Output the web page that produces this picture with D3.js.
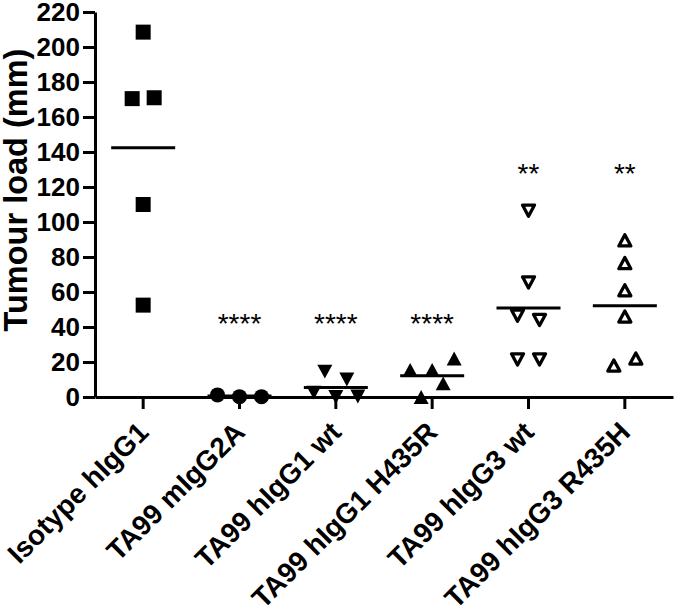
<!DOCTYPE html>
<html>
<head>
<meta charset="utf-8">
<script src="https://cdn.jsdelivr.net/npm/d3@7"></script>
<style>
  body { margin: 0; background: #fff; }
  svg { display: block; font-family: Arial, "Liberation Sans", sans-serif; }
</style>
</head>
<body>
<div id="chart"></div>
<script>
var width = 675,
	height = 616,
	margin = {top: 12, right: 2, bottom: 219, left: 95};

// groups and tumour load values (mm)
var groups = ["Isotype hIgG1", "TA99 mIgG2A", "TA99 hIgG1 wt", "TA99 hIgG1 H435R", "TA99 hIgG3 wt", "TA99 hIgG3 R435H"];
var isotypeIgG1 = [208.5, 170.5, 171, 110, 52.5];
var mIgG2A      = [1.2, 0.2, 0.2];
var hIgG1wt     = [14.5, 10, 2.5, 0, 0.3];
var hIgG1H435R  = [15.5, 15.5, 22, 0, 7.8];
var hIgG3wt     = [106.5, 65.5, 46.5, 44, 21.5, 21.5];
var hIgG3R435H  = [89.5, 76.5, 61, 46, 18, 22];
var series = [isotypeIgG1, mIgG2A, hIgG1wt, hIgG1H435R, hIgG3wt, hIgG3R435H];

var stars = ["", "****", "****", "****", "**", "**"];
var starLevel = [0, 46, 46, 46, 131.5, 131.5];
var yTicks = [0, 20, 40, 60, 80, 100, 120, 140, 160, 180, 200, 220];

var svg = d3.select('#chart')
			.append('svg')
			.attr('width', width)
			.attr('height', height)
			.style('background', '#fff');

var x = d3.scaleBand()
			.domain(groups)
			.range([margin.left, width - margin.right]),
	y = d3.scaleLinear()
			.domain([0, 220])
			.range([height - margin.bottom, margin.top]);

// triangles centred on their bounding box, like the plotting software does
var triUp = {
	draw: function(ctx, size){
		var w = Math.sqrt(size), h = w * 0.93;
		ctx.moveTo(0, -h/2);
		ctx.lineTo(w/2, h/2);
		ctx.lineTo(-w/2, h/2);
		ctx.closePath();
	}
};
var triDown = {
	draw: function(ctx, size){
		var w = Math.sqrt(size), h = w * 0.93;
		ctx.moveTo(0, h/2);
		ctx.lineTo(w/2, -h/2);
		ctx.lineTo(-w/2, -h/2);
		ctx.closePath();
	}
};

var styles = [
	{type: d3.symbolSquare, size: 225, open: false},
	{type: d3.symbolCircle, size: 177, open: false},
	{type: triDown, size: 225, open: false},
	{type: triUp, size: 225, open: false},
	{type: triDown, size: 144, open: true},
	{type: triUp, size: 144, open: true}
];

// spread points that overlap vertically into centred rows
function spread(values){
	var sym = 15, gap = 22;
	var order = values.map(function(v, i){ return i; })
				.sort(function(a, b){ return values[b] - values[a]; });
	var rows = [], offs = new Array(values.length);
	order.forEach(function(i){
		var last = rows[rows.length - 1];
		if (last && y(values[i]) - y(values[last[0]]) < sym) last.push(i);
		else rows.push([i]);
	});
	rows.forEach(function(r){
		r.sort(function(a, b){ return a - b; });
		r.forEach(function(i, k){ offs[i] = (k - (r.length - 1) / 2) * gap; });
	});
	return offs;
}

// axes
var yAxis = svg.append("g")
			.attr("transform", "translate(" + margin.left + ",0)")
			.call(d3.axisLeft(y).tickValues(yTicks).tickSize(12).tickSizeOuter(0).tickPadding(3));

var xAxis = svg.append("g")
			.attr("transform", "translate(0," + y(0) + ")")
			.call(d3.axisBottom(x).tickSize(12).tickSizeOuter(0));

svg.selectAll(".domain, .tick line")
	.attr("stroke", "#000")
	.attr("stroke-width", 3);

yAxis.selectAll("text")
	.attr("fill", "#000")
	.style("font-size", "26px")
	.style("font-weight", "bold")
	.attr("dy", "0.34em");

xAxis.selectAll("text")
	.attr("fill", "#000")
	.style("font-size", "28px")
	.style("font-weight", "bold")
	.attr("text-anchor", "end")
	.attr("y", 0)
	.attr("dy", 0)
	.attr("transform", "translate(7,37) rotate(-45)");

svg.append("text")
	.attr("transform", "translate(27,190) rotate(-90)")
	.attr("text-anchor", "middle")
	.style("font-size", "32.5px")
	.style("font-weight", "bold")
	.text("Tumour load (mm)");

// points
series.forEach(function(vals, g){
	var cx = x(groups[g]) + x.bandwidth() / 2,
		offs = spread(vals),
		st = styles[g],
		sym = d3.symbol().type(st.type).size(st.size);

	svg.append("g").selectAll("path")
		.data(vals).enter()
		.append("path")
		.attr("d", sym)
		.attr("transform", function(d, i){ return "translate(" + (cx + offs[i]) + "," + y(d) + ")"; })
		.attr("fill", st.open ? "#fff" : "#000")
		.attr("stroke", st.open ? "#000" : "none")
		.attr("stroke-width", 3.3)
		.attr("stroke-linejoin", "round");

	// mean line
	svg.append("line")
		.attr("x1", cx - 32)
		.attr("x2", cx + 32)
		.attr("y1", y(d3.mean(vals)))
		.attr("y2", y(d3.mean(vals)))
		.attr("stroke", "#000")
		.attr("stroke-width", 3);

	if (stars[g]) {
		svg.append("text")
			.attr("x", cx)
			.attr("y", y(starLevel[g]) + 16)
			.attr("text-anchor", "middle")
			.style("font-size", "28px")
			.text(stars[g]);
	}
});
</script>
</body>
</html>
